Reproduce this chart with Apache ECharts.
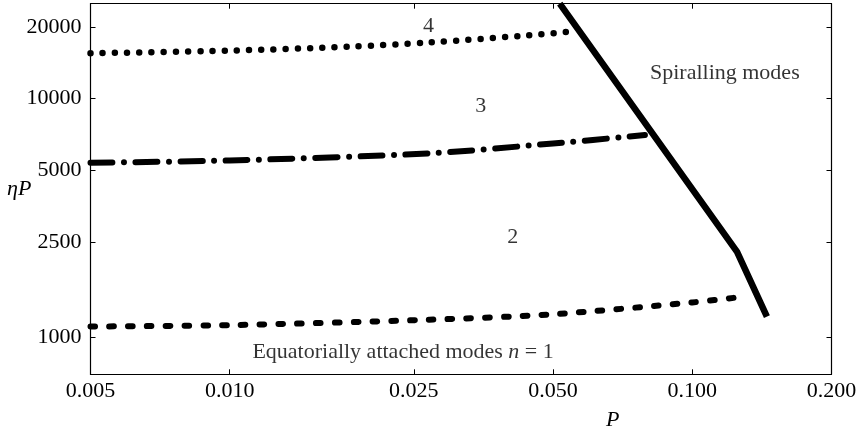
<!DOCTYPE html>
<html>
<head>
<meta charset="utf-8">
<script src="https://cdn.jsdelivr.net/npm/echarts@6/dist/echarts.min.js"></script>
<style>
  html, body { margin: 0; padding: 0; background: #fff; }
  #main { width: 859px; height: 432px; }
</style>
</head>
<body>
<div id="main"></div>
<script>
// tick values
var xTicks = [0.005, 0.010, 0.025, 0.050, 0.100, 0.200];
var yTicks = [1000, 2500, 5000, 10000, 20000];

// curves: [P, etaP]
var mode4 = [[0.005, 15500], [0.010, 15900], [0.018, 16500], [0.027, 17200], [0.043, 18350], [0.0546, 19100]];
var mode3 = [[0.005, 5390], [0.010, 5510], [0.027, 5900], [0.050, 6490], [0.079, 7040]];
var mode2 = [[0.005, 1110], [0.010, 1125], [0.027, 1185], [0.050, 1250], [0.100, 1400], [0.129, 1480]];
var boundary = [[0.0517, 25000], [0.125, 2280], [0.145, 1220]];

// text labels placed in data coordinates
var notes = [
    {value: [0.0269, 20190], name: '4'},
    {value: [0.0349, 9320], name: '3'},
    {value: [0.0409, 2636], name: '2'},
    {value: [0.1176, 12780], name: 'Spiralling modes'},
    {value: [0.0237, 863], name: 'Equatorially attached modes {it|n} = 1'}
];

var FONT = '"Liberation Serif", "Times New Roman", serif';

var myChart = echarts.init(document.getElementById('main'));

function axisX(pos, showLabel) {
    return {
        type: 'log',
        position: pos,
        min: 0.005,
        max: 0.2,
        axisLine: {show: true, onZero: false, lineStyle: {color: '#000', width: 1.2}},
        axisTick: {show: true, inside: true, length: 5, customValues: xTicks, lineStyle: {color: '#000', width: 1}},
        axisLabel: {
            show: showLabel,
            customValues: xTicks,
            margin: 6,
            color: '#000',
            fontFamily: FONT,
            fontSize: 22,
            formatter: function (v) { return v.toFixed(3); }
        },
        splitLine: {show: false},
        minorTick: {show: false}
    };
}

function axisY(pos, showLabel) {
    return {
        type: 'log',
        position: pos,
        min: 700,
        max: 25000,
        axisLine: {show: true, onZero: false, lineStyle: {color: '#000', width: 1.2}},
        axisTick: {show: true, inside: true, length: 5, customValues: yTicks, lineStyle: {color: '#000', width: 1}},
        axisLabel: {
            show: showLabel,
            customValues: yTicks,
            margin: 9,
            color: '#000',
            fontFamily: FONT,
            fontSize: 22,
            formatter: function (v) { return String(Math.round(v)); }
        },
        splitLine: {show: false},
        minorTick: {show: false}
    };
}

option = {
    animation: false,
    backgroundColor: '#fff',
    grid: {left: 90.5, right: 27.5, top: 3.7, bottom: 57.7, outerBoundsMode: 'none'},
    xAxis: [axisX('bottom', true), axisX('top', false)],
    yAxis: [axisY('left', true), axisY('right', false)],
    graphic: [
        {
            type: 'text',
            left: 606,
            top: 409,
            style: {text: 'P', fill: '#000', font: 'italic 22px ' + FONT}
        },
        {
            type: 'text',
            left: 7,
            top: 178,
            style: {text: 'ηP', fill: '#000', font: 'italic 22px ' + FONT}
        }
    ],
    series: [
        {
            name: 'n=4',
            type: 'line',
            data: mode4,
            symbol: 'none',
            smooth: 0.3,
            lineStyle: {color: '#000', width: 6.5, type: [0, 12.2], cap: 'round'}
        },
        {
            name: 'n=3',
            type: 'line',
            data: mode3,
            symbol: 'none',
            smooth: 0.3,
            lineStyle: {color: '#000', width: 6, type: [22, 11.5, 0, 11.5], cap: 'round'}
        },
        {
            name: 'n=2',
            type: 'line',
            data: mode2,
            symbol: 'none',
            smooth: 0.3,
            lineStyle: {color: '#000', width: 6, type: [4.6, 14.2], cap: 'round'}
        },
        {
            name: 'boundary',
            type: 'line',
            data: boundary,
            symbol: 'none',
            lineStyle: {color: '#000', width: 6.5, cap: 'butt', join: 'miter'}
        },
        {
            name: 'notes',
            type: 'scatter',
            data: notes,
            symbolSize: 0,
            silent: true,
            label: {
                show: true,
                position: 'inside',
                color: '#000',
                fontFamily: FONT,
                fontSize: 22,
                formatter: function (p) { return p.name; },
                rich: {
                    it: {fontFamily: FONT, fontSize: 22, fontStyle: 'italic', color: '#000'}
                }
            }
        }
    ]
};

myChart.setOption(option);
</script>
</body>
</html>
